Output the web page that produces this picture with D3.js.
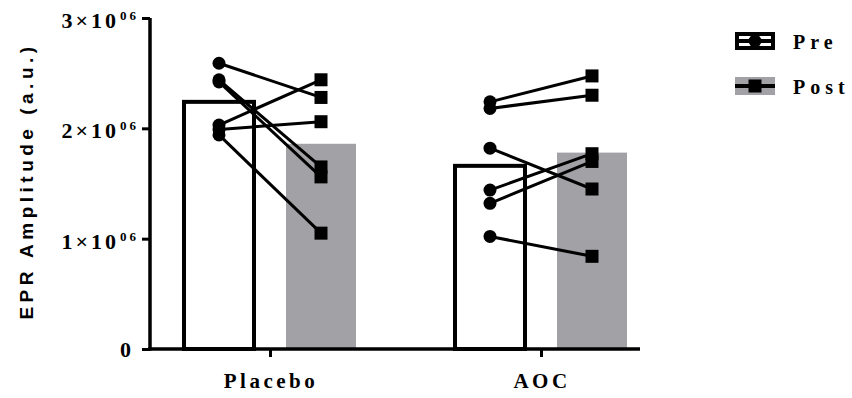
<!DOCTYPE html>
<html>
<head>
<meta charset="utf-8">
<script src="https://cdn.jsdelivr.net/npm/d3@7"></script>
<style>
  body { margin: 0; background: #fff; }
  svg { display: block; }
</style>
</head>
<body>
<div id="chart"></div>
<script>
// groups and time points
const groups = ['Placebo', 'AOC'];
const timepoints = ['Pre', 'Post'];

// individual subjects, paired by index (pre -> post)
const placeboPre  = [2590000, 2440000, 2420000, 2030000, 1990000, 1940000];
const placeboPost = [2280000, 1650000, 1560000, 2440000, 2060000, 1050000];
const aocPre      = [2240000, 2180000, 1820000, 1440000, 1320000, 1020000];
const aocPost     = [2475000, 2300000, 1450000, 1770000, 1700000, 840000];

// bar heights (group means)
const placeboMeans = [2240000, 1860000];
const aocMeans     = [1660000, 1780000];

const yTicks = [0, 1000000, 2000000, 3000000];

const subjects = { Placebo: [placeboPre, placeboPost], AOC: [aocPre, aocPost] };
const means = { Placebo: placeboMeans, AOC: aocMeans };

const svg = d3.select('#chart')
  .append('svg')
    .attr('width', 852)
    .attr('height', 398);

// scales
const y = d3.scaleLinear().domain([0, 3000000]).range([349, 18]);
const x = d3.scalePoint().domain(groups).range([270, 541]);
const xSub = d3.scaleBand().domain(timepoints).range([-86, 86]).paddingInner(0.3137);
const bw = xSub.bandwidth();
const subX = (g, t) => x(g) + xSub(t) + bw / 2;

// bars
const barData = [];
groups.forEach(g => timepoints.forEach((t, i) => barData.push({ g: g, t: t, v: means[g][i] })));

svg.selectAll('rect.bar')
    .data(barData)
    .enter()
    .append('rect')
      .attr('class', 'bar')
      .attr('x', d => x(d.g) + xSub(d.t))
      .attr('y', d => y(d.v))
      .attr('width', bw)
      .attr('height', d => y(0) - y(d.v))
      .attr('fill', d => d.t === 'Pre' ? '#fff' : '#a2a1a6')
      .attr('stroke', d => d.t === 'Pre' ? '#000' : 'none')
      .attr('stroke-width', 4);

// paired lines
const pairs = [];
groups.forEach(g => subjects[g][0].forEach((v, i) => pairs.push({ g: g, pre: v, post: subjects[g][1][i] })));

svg.selectAll('line.pair')
    .data(pairs)
    .enter()
    .append('line')
      .attr('x1', d => subX(d.g, 'Pre'))
      .attr('y1', d => y(d.pre))
      .attr('x2', d => subX(d.g, 'Post'))
      .attr('y2', d => y(d.post))
      .attr('stroke', '#000')
      .attr('stroke-width', 3);

// pre points (circles)
svg.selectAll('circle.pre')
    .data(pairs)
    .enter()
    .append('circle')
      .attr('cx', d => subX(d.g, 'Pre'))
      .attr('cy', d => y(d.pre))
      .attr('r', 6.5)
      .attr('fill', '#000');

// post points (squares)
svg.selectAll('rect.post')
    .data(pairs)
    .enter()
    .append('rect')
      .attr('x', d => subX(d.g, 'Post') - 6.5)
      .attr('y', d => y(d.post) - 6.5)
      .attr('width', 13)
      .attr('height', 13)
      .attr('fill', '#000');

// y axis
const yAxis = svg.append('g')
    .attr('transform', 'translate(150,0)')
    .call(d3.axisLeft(y).tickValues(yTicks).tickSize(8).tickFormat(''));
yAxis.select('.domain').attr('stroke-width', 3.5).attr('d', 'M0,' + y(3000000) + 'V' + (y(0) + 1.5));
yAxis.selectAll('.tick line').attr('stroke-width', 3);

// y tick labels: N×10^06
const yLab = svg.selectAll('text.ylab')
    .data(yTicks)
    .enter()
    .append('text')
      .attr('class', 'ylab')
      .attr('x', d => d === 0 ? 134 : 139)
      .attr('y', d => y(d) + (d === 0 ? 8 : 10))
      .attr('text-anchor', 'end')
      .style('font-family', '"Liberation Serif", serif')
      .style('font-weight', 'bold')
      .style('font-size', '22px')
      .style('letter-spacing', '3px');
yLab.append('tspan').text(d => d === 0 ? '0' : (d / 1000000) + '×10');
yLab.filter(d => d !== 0)
  .append('tspan')
    .attr('dy', -8)
    .attr('dx', 1)
    .style('font-size', '13px')
    .style('letter-spacing', '3px')
    .text('06');

// x axis
svg.append('line')
    .attr('x1', 148.25).attr('x2', 640)
    .attr('y1', y(0)).attr('y2', y(0))
    .attr('stroke', '#000')
    .attr('stroke-width', 3.5);

const xAxis = svg.append('g')
    .attr('transform', 'translate(0,' + y(0) + ')')
    .call(d3.axisBottom(x).tickSize(8).tickFormat(''));
xAxis.select('.domain').remove();
xAxis.selectAll('.tick line').attr('stroke-width', 3);

svg.selectAll('text.xlab')
    .data(groups)
    .enter()
    .append('text')
      .attr('x', d => x(d) + 1)
      .attr('y', 388)
      .attr('text-anchor', 'middle')
      .style('font-family', '"Liberation Serif", serif')
      .style('font-weight', 'bold')
      .style('font-size', '21px')
      .style('letter-spacing', '3.5px')
      .text(d => d);

// y axis title
svg.append('text')
    .attr('transform', 'translate(33,181) rotate(-90)')
    .attr('text-anchor', 'middle')
    .style('font-family', '"Liberation Sans", Arial, sans-serif')
    .style('font-weight', 'bold')
    .style('font-size', '19px')
    .style('letter-spacing', '4.5px')
    .text('EPR Amplitude (a.u.)');

// legend
const legend = svg.selectAll('g.legend')
    .data(timepoints)
    .enter()
    .append('g')
      .attr('transform', (d, i) => 'translate(735,' + (32 + i * 45) + ')');

legend.append('rect')
    .attr('x', d => d === 'Pre' ? 2 : 0)
    .attr('y', d => d === 'Pre' ? 2 : 0)
    .attr('width', d => d === 'Pre' ? 36 : 40)
    .attr('height', d => d === 'Pre' ? 14 : 18)
    .attr('fill', d => d === 'Pre' ? '#fff' : '#a2a1a6')
    .attr('stroke', d => d === 'Pre' ? '#000' : 'none')
    .attr('stroke-width', 4);
legend.append('line')
    .attr('x1', 0).attr('x2', 40)
    .attr('y1', 9).attr('y2', 9)
    .attr('stroke', '#000')
    .attr('stroke-width', 4);
legend.filter(d => d === 'Pre')
  .append('circle')
    .attr('cx', 20).attr('cy', 9).attr('r', 6.5)
    .attr('fill', '#000');
legend.filter(d => d === 'Post')
  .append('rect')
    .attr('x', 13.5).attr('y', 2.5).attr('width', 13).attr('height', 13)
    .attr('fill', '#000');
legend.append('text')
    .attr('x', 58)
    .attr('y', 17)
    .style('font-family', '"Liberation Serif", serif')
    .style('font-weight', 'bold')
    .style('font-size', '20px')
    .style('letter-spacing', '5px')
    .text(d => d);
</script>
</body>
</html>
